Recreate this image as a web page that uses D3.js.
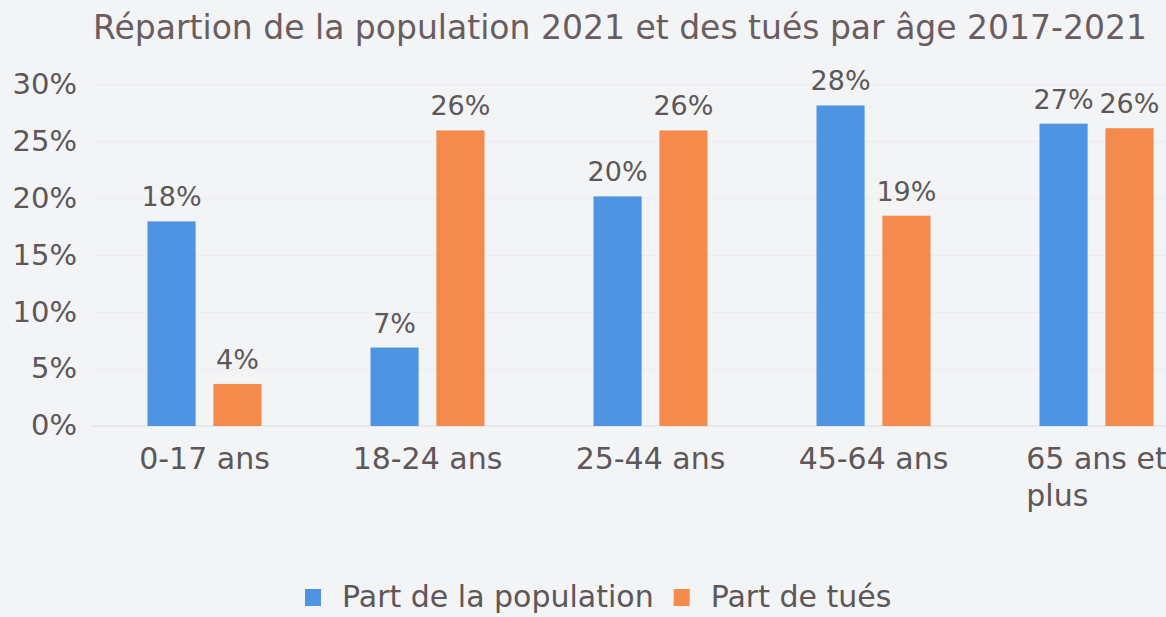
<!DOCTYPE html>
<html>
<head>
<meta charset="utf-8">
<script src="https://cdn.jsdelivr.net/npm/d3@7"></script>
<style>
  body { margin: 0; background: #f3f4f6; }
  svg { display: block; font-family: "DejaVu Sans", sans-serif; }
</style>
</head>
<body>
<div id="chart"></div>
<script>
var categories = ["0-17 ans", "18-24 ans", "25-44 ans", "45-64 ans", "65 ans et plus"];
var population = [18.0, 6.9, 20.2, 28.2, 26.6];
var tues = [3.7, 26.0, 26.0, 18.5, 26.2];
var seriesNames = ["Part de la population", "Part de tués"];
var yTicks = [0, 5, 10, 15, 20, 25, 30];

var wi = 1166, he = 617;
var colors = ["#4e94e3", "#f58a4d"];
var textCol = "#5d5758";

var svg = d3.select("#chart").append("svg")
  .attr("width", wi).attr("height", he);

svg.append("rect").attr("width", wi).attr("height", he).attr("fill", "#f3f4f6");

var x0 = d3.scaleBand().domain(categories).range([93, 1208]).paddingInner(0).paddingOuter(0);
var x1 = d3.scaleBand().domain([0, 1]).range([x0.bandwidth() / 2 - 57, x0.bandwidth() / 2 + 57]).paddingInner(0.27);
var y = d3.scaleLinear().domain([0, 30]).range([426, 85]);

// gridlines
svg.append("g").selectAll("line").data(yTicks.slice(1)).enter().append("line")
  .attr("x1", 93).attr("x2", wi)
  .attr("y1", function(d) { return y(d); }).attr("y2", function(d) { return y(d); })
  .attr("stroke", "#ececee").attr("stroke-width", 1);

// y axis
var yAxis = d3.axisLeft(y).tickValues(yTicks).tickSize(0).tickPadding(0)
  .tickFormat(function(d) { return d + "%"; });
var gy = svg.append("g").attr("transform", "translate(77,0)").call(yAxis);
gy.select(".domain").remove();
gy.selectAll("text").attr("fill", textCol).style("font-size", "29px")
  .style("font-family", "DejaVu Sans").attr("dy", "0.3em");

// baseline
svg.append("line").attr("x1", 93).attr("x2", wi).attr("y1", y(0)).attr("y2", y(0))
  .attr("stroke", "#dcdcdf").attr("stroke-width", 1);

var data = categories.map(function(c, i) { return { cat: c, vals: [population[i], tues[i]] }; });

var groups = svg.selectAll(".grp").data(data).enter().append("g")
  .attr("transform", function(d) { return "translate(" + x0(d.cat) + ",0)"; });

groups.selectAll("rect").data(function(d) { return d.vals; }).enter().append("rect")
  .attr("x", function(d, i) { return x1(i); })
  .attr("width", x1.bandwidth())
  .attr("y", function(d) { return y(d); })
  .attr("height", function(d) { return y(0) - y(d); })
  .attr("fill", function(d, i) { return colors[i]; });

groups.selectAll(".lbl").data(function(d) { return d.vals; }).enter().append("text")
  .attr("x", function(d, i) { return x1(i) + x1.bandwidth() / 2; })
  .attr("y", function(d) { return y(d) - 15; })
  .attr("text-anchor", "middle")
  .attr("fill", textCol).style("font-size", "27px")
  .text(function(d) { return Math.round(d) + "%"; });

// category labels (wrap long ones, left aligned like the original)
groups.each(function(d) {
  var g = d3.select(this);
  var cx = x0.bandwidth() / 2;
  var words = d.cat.split(" ");
  var lines = words.length > 3 ? [words.slice(0, 3).join(" "), words.slice(3).join(" ")] : [d.cat];
  var t = g.append("text").attr("fill", textCol).style("font-size", "30px");
  if (lines.length === 1) {
    t.attr("x", cx).attr("y", 469).attr("text-anchor", "middle").text(lines[0]);
  } else {
    var tmp = g.append("text").style("font-size", "30px").text(lines[0]);
    var w = tmp.node().getComputedTextLength();
    tmp.remove();
    lines.forEach(function(l, k) {
      t.append("tspan").attr("x", cx - w / 2).attr("y", 469 + k * 37).text(l);
    });
  }
});

// title
svg.append("text").attr("x", 620).attr("y", 39).attr("text-anchor", "middle")
  .attr("fill", "#6a5d5f").style("font-size", "33px")
  .text("Répartion de la population 2021 et des tués par âge 2017-2021");

// legend
var leg = svg.append("g").attr("transform", "translate(305,607)");
var lx = 0;
seriesNames.forEach(function(n, i) {
  leg.append("rect").attr("x", lx).attr("y", -18).attr("width", 16).attr("height", 17).attr("fill", colors[i]);
  var t = leg.append("text").attr("x", lx + 37).attr("y", 0).attr("fill", textCol)
    .style("font-size", "30px").text(n);
  lx += 37 + t.node().getComputedTextLength() + 20;
});
</script>
</body>
</html>
